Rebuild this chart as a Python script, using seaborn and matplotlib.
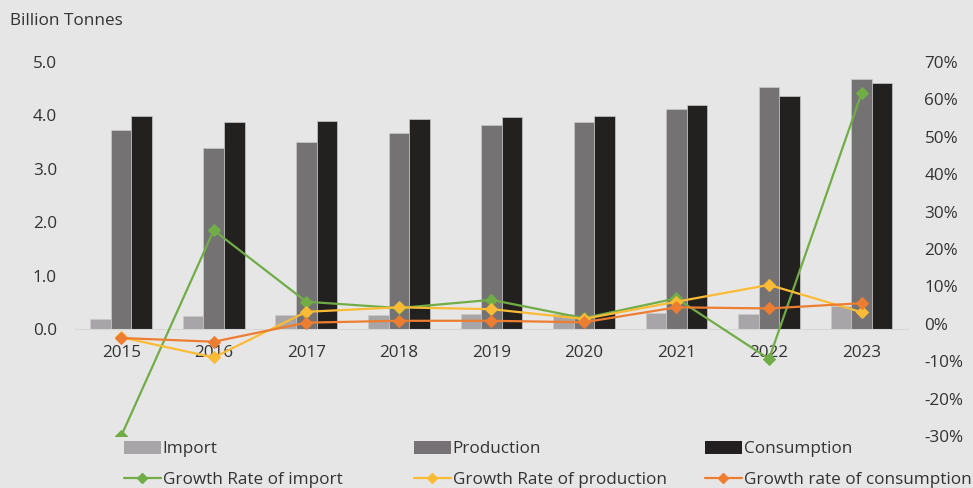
import numpy as np
import pandas as pd
import seaborn as sns
import matplotlib.pyplot as plt
from matplotlib.patches import Patch
from matplotlib.lines import Line2D
from matplotlib.ticker import PercentFormatter

years = ["2015", "2016", "2017", "2018", "2019", "2020", "2021", "2022", "2023"]
import_vol = [0.19, 0.245, 0.26, 0.26, 0.28, 0.28, 0.31, 0.28, 0.43]
production = [3.73, 3.39, 3.50, 3.67, 3.82, 3.88, 4.12, 4.54, 4.69]
consumption = [3.99, 3.88, 3.90, 3.93, 3.97, 3.99, 4.19, 4.36, 4.61]

growth_import = [-30.0, 25.0, 5.9, 4.2, 6.4, 1.5, 6.8, -9.4, 61.6]
growth_prod = [-3.6, -9.0, 3.2, 4.4, 3.9, 1.3, 5.9, 10.4, 3.1]
growth_cons = [-3.8, -4.8, 0.3, 0.8, 0.8, 0.4, 4.4, 4.1, 5.5]

bar_names = ["Import", "Production", "Consumption"]
bar_colors = ["#a7a5a7", "#767174", "#231f20"]
line_names = ["Growth Rate of import", "Growth Rate of production", "Growth rate of consumption"]
line_colors = ["#70ad47", "#fbbb35", "#ed7d31"]

BG = "#e7e6e6"
TXT = "#333333"
FS = 12.3


def main():
    sns.set_style("white")
    plt.rcParams["font.family"] = ["Open Sans", "DejaVu Sans"]
    plt.rcParams["font.size"] = FS
    plt.rcParams["axes.unicode_minus"] = False

    bars = pd.DataFrame({
        "year": years * 3,
        "value": import_vol + production + consumption,
        "series": [n for n in bar_names for _ in years],
    })

    fig = plt.figure(figsize=(9.73, 4.88), dpi=100, facecolor=BG)
    ax = fig.add_axes([0.077, 0.1066, 0.856, 0.7664])
    ax.set_facecolor(BG)

    sns.barplot(data=bars, x="year", y="value", hue="series", order=years,
                hue_order=bar_names, palette=bar_colors, width=0.667,
                edgecolor="#cacaca", linewidth=0.5, legend=False, ax=ax)

    ax.set_ylim(-2, 5)
    ax.set_yticks(np.arange(0, 5.01, 1.0))
    ax.set_yticklabels([f"{v:.1f}" for v in np.arange(0, 5.01, 1.0)])
    ax.set_xlim(-0.5, len(years) - 0.5)
    ax.set_xlabel("")
    ax.set_ylabel("")
    for s in ["top", "right", "left"]:
        ax.spines[s].set_visible(False)
    ax.spines["bottom"].set_position(("data", 0))
    ax.spines["bottom"].set_color("#d6d6d6")
    ax.tick_params(axis="x", length=0, pad=11.5, colors=TXT, labelsize=FS)
    ax.tick_params(axis="y", length=0, pad=13, colors=TXT, labelsize=FS)

    ax2 = ax.twinx()
    xs = np.arange(len(years))
    for vals, col in zip([growth_import, growth_prod, growth_cons], line_colors):
        sns.lineplot(x=xs, y=vals, color=col, marker="D", markersize=6.5,
                     markeredgecolor=col, linewidth=1.6, ax=ax2)
    ax2.set_ylim(-30, 70)
    ax2.set_yticks(np.arange(-30, 71, 10))
    ax2.yaxis.set_major_formatter(PercentFormatter(decimals=0))
    ax2.tick_params(axis="y", length=0, pad=12, colors=TXT, labelsize=FS)
    for s in ax2.spines.values():
        s.set_visible(False)
    ax2.set_xlim(-0.5, len(years) - 0.5)

    fig.text(10 / 973, 1 - 21 / 488, "Billion Tonnes", ha="left", va="center",
             color=TXT, fontsize=FS)

    xpos = [124 / 973, 414 / 973, 705 / 973]
    for i in range(3):
        handles = [
            Patch(facecolor=bar_colors[i], edgecolor="none"),
            Line2D([0], [0], color=line_colors[i], lw=1.6, marker="D",
                   markersize=5.5, markeredgecolor=line_colors[i]),
        ]
        fig.legend(handles, [bar_names[i], line_names[i]], loc="upper left",
                   bbox_to_anchor=(xpos[i], 1 - 441 / 488), frameon=False,
                   borderpad=0, borderaxespad=0, handlelength=2.15,
                   handleheight=0.8, handletextpad=0.12, labelspacing=0.85,
                   fontsize=FS, labelcolor=TXT)

    fig.savefig("out.png", dpi=100, facecolor=BG)
    plt.close(fig)


if __name__ == "__main__":
    main()
